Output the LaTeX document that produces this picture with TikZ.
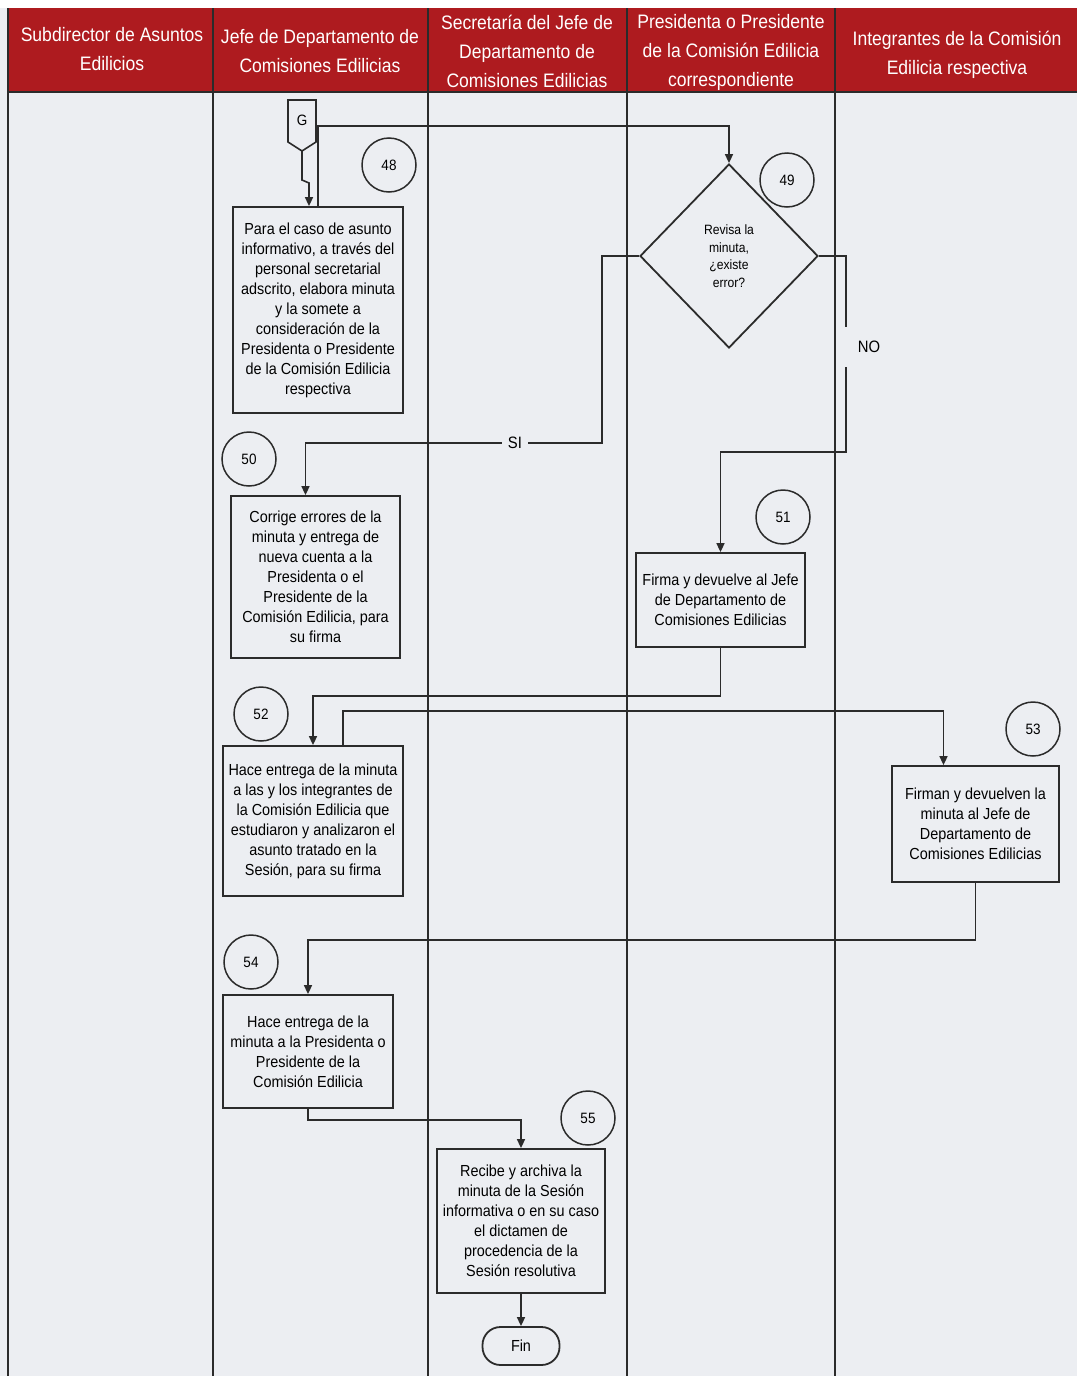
\documentclass[tikz,border=0pt]{standalone}
\usepackage{fontspec}
\setmainfont{Liberation Sans}[FakeStretch=0.9]
\usepackage{tikz}
\usetikzlibrary{arrows.meta, positioning, shapes.geometric}
\definecolor{fondo}{HTML}{ECEEF2}
\definecolor{guinda}{HTML}{AE1B1F}
\definecolor{trazo}{HTML}{2B2B2B}

\begin{document}
\begin{tikzpicture}[x=1pt, y=-1pt,
    caja/.style={draw=trazo, line width=1.8pt, fill=fondo, align=center, inner sep=2pt,
        font=\fontsize{16}{20}\selectfont},
    num/.style={draw=trazo, line width=1.5pt, circle, minimum size=54pt, inner sep=0pt,
        font=\fontsize{15}{16}\selectfont},
    cabeza/.style={text=white, align=center, font=\fontsize{19.5}{29}\selectfont},
    etiqueta/.style={font=\fontsize{16.5}{18}\selectfont, inner sep=6pt},
    linea/.style={draw=trazo, line width=1.6pt},
    flecha/.style={linea, -{Triangle[length=9pt,width=8pt]}},
    carril/.style={trazo, line width=1.8pt}]
    \useasboundingbox (0,0) rectangle (1077,1376);
    % 背景与表头
    \fill[fondo] (0,0) rectangle (1077,1376);
    \fill[white] (0,0) rectangle (1077,8);
    \fill[guinda] (8,8) rectangle (1077,92);
    \node[cabeza] (h1) at (112,49) {Subdirector de Asuntos\\Edilicios};
    \node[cabeza] (h2) at (320,51) {Jefe de Departamento de\\Comisiones Edilicias};
    \node[cabeza] (h3) at (527,51) {Secretaría del Jefe de\\Departamento de\\Comisiones Edilicias};
    \node[cabeza] (h4) at (731,52) {Presidenta o Presidente\\de la Comisión Edilicia\\correspondiente};
    \node[cabeza] (h5) at (957,55) {Integrantes de la Comisión\\Edilicia respectiva};

    % 泳道
    \foreach \x in {8,213,428,627,835}
        \draw[carril] (\x,8) -- (\x,1376);
    \draw[carril] (8,92) -- (1077,92);

    % 连接符 G
    \draw[linea, fill=fondo] (288,100) -- (316,100) -- (316,142) -- (302,151) -- (288,142) -- cycle;
    \node[font=\fontsize{15}{16}\selectfont] (G) at (302,120) {G};
    \coordinate (Gpunta) at (302,151);

    % 活动
    \node[caja, minimum width=170pt, minimum height=206pt] (b48) at (318,310)
        {Para el caso de asunto\\informativo, a través del\\personal secretarial\\adscrito, elabora minuta\\y la somete a\\consideración de la\\Presidenta o Presidente\\de la Comisión Edilicia\\respectiva};
    \node[caja, diamond, minimum width=178pt, minimum height=184pt, inner sep=0pt,
        font=\fontsize{13.5}{17.5}\selectfont] (d49) at (729,256)
        {Revisa la\\minuta,\\¿existe\\error?};
    \node[caja, minimum width=169pt, minimum height=162pt] (b50) at (315.5,577)
        {Corrige errores de la\\minuta y entrega de\\nueva cuenta a la\\Presidenta o el\\Presidente de la\\Comisión Edilicia, para\\su firma};
    \node[caja, minimum width=169pt, minimum height=94pt] (b51) at (720.5,600)
        {Firma y devuelve al Jefe\\de Departamento de\\Comisiones Edilicias};
    \node[caja, minimum width=180pt, minimum height=150pt] (b52) at (313,821)
        {Hace entrega de la minuta\\a las y los integrantes de\\la Comisión Edilicia que\\estudiaron y analizaron el\\asunto tratado en la\\Sesión, para su firma};
    \node[caja, minimum width=167pt, minimum height=116pt] (b53) at (975.5,824)
        {Firman y devuelven la\\minuta al Jefe de\\Departamento de\\Comisiones Edilicias};
    \node[caja, minimum width=170pt, minimum height=113pt] (b54) at (308,1051.5)
        {Hace entrega de la\\minuta a la Presidenta o\\Presidente de la\\Comisión Edilicia};
    \node[caja, minimum width=168pt, minimum height=144pt] (b55) at (521,1221)
        {Recibe y archiva la\\minuta de la Sesión\\informativa o en su caso\\el dictamen de\\procedencia de la\\Sesión resolutiva};
    \node[caja, minimum width=77pt, minimum height=38pt, rounded corners=18pt] (fin) at (521,1346) {Fin};

    % 编号
    \node[num] (c48) at (389,165) {48};
    \node[num] (c49) at (787,180) {49};
    \node[num] (c50) at (249,459) {50};
    \node[num] (c51) at (783,517) {51};
    \node[num] (c52) at (261,714) {52};
    \node[num] (c53) at (1033,729) {53};
    \node[num] (c54) at (251,962) {54};
    \node[num] (c55) at (588,1118) {55};

    % 判断分支
    \node[etiqueta] (si) at (515,443) {SI};
    \node[etiqueta] (no) at (869,347) {NO};
    \coordinate (noA) at (846,327);
    \coordinate (noB) at (846,367);

    % 流程线
    \draw[flecha] (Gpunta) -- ++(0,29) -- ++(7,3) -- ([xshift=-9pt]b48.north);
    \draw[flecha] (b48.north) -- ++(0,-80) -| (d49.north);
    \draw[linea] (d49.west) -- ++(-37,0) |- (si.east);
    \draw[flecha] (si.west) -| ([xshift=-10pt]b50.north);
    \draw[linea] (d49.east) -| (noA);
    \draw[flecha] (noB) -- ++(0,85) -| (b51.north);
    \draw[flecha] (b51.south) -- ++(0,48) -| (b52.north);
    \draw[flecha] ([xshift=30pt]b52.north) -- ++(0,-34) -| ([xshift=-32pt]b53.north);
    \draw[flecha] (b53.south) -- ++(0,57) -| (b54.north);
    \draw[flecha] (b54.south) -- ++(0,11) -| (b55.north);
    \draw[flecha] (b55.south) -- (fin.north);
\end{tikzpicture}
\end{document}
